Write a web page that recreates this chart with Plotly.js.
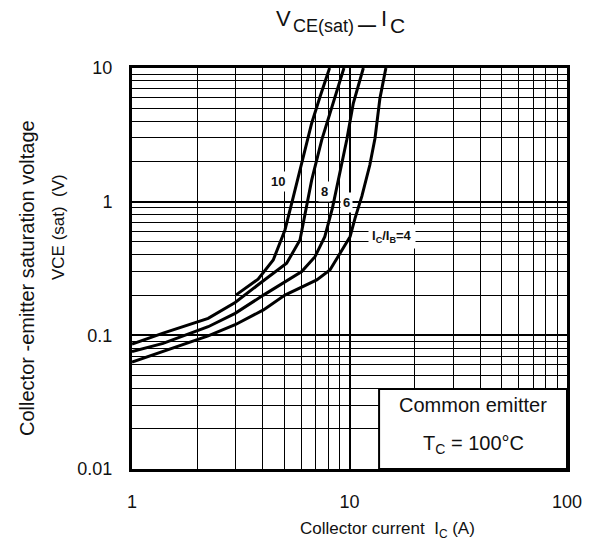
<!DOCTYPE html>
<html>
<head>
<meta charset="utf-8">
<script src="https://cdn.plot.ly/plotly-3.0.1.min.js"></script>
<style>html,body{margin:0;padding:0;background:#fff}#chart{width:592px;height:547px}</style>
</head>
<body>
<div id="chart"></div>
<script>
// ---- data (IC in A, VCE(sat) in V) ----
const ratioLabels = ["10", "8", "6", "I<sub>C</sub>/I<sub>B</sub>=4"];

const ic10 = [3.0, 3.8, 4.46, 5.05, 5.52, 6.03, 6.7, 7.32, 8.1];
const v10  = [0.2, 0.263, 0.366, 0.614, 1.09, 1.94, 3.86, 6.1, 10];

const ic8 = [1, 1.39, 2.24, 2.98, 3.88, 5.14, 5.92, 6.3, 6.7, 7.45, 8.42, 9.43];
const v8  = [0.086, 0.104, 0.134, 0.176, 0.245, 0.346, 0.517, 0.9, 1.45, 2.89, 5.45, 10];

const ic6 = [1, 1.39, 2.24, 2.98, 4.02, 4.96, 6.03, 6.94, 7.7, 8.35, 8.89, 9.71, 10.41, 11.58];
const v6  = [0.0755, 0.087, 0.116, 0.146, 0.2, 0.245, 0.3, 0.388, 0.547, 0.9, 1.45, 2.89, 5.45, 10];

const ic4 = [1, 1.39, 2.24, 2.98, 4.02, 5.05, 5.92, 7.07, 8.13, 9.03, 10.06, 10.6, 11.4, 12.4, 13.1, 13.8, 14.7];
const v4  = [0.063, 0.0755, 0.099, 0.12, 0.155, 0.2, 0.225, 0.26, 0.308, 0.411, 0.547, 0.75, 1.1, 1.88, 2.98, 5.93, 10];

const xTickVals = [1, 10, 100];
const xTickText = ["1", "10", "100"];
const yTickVals = [0.01, 0.1, 1, 10];
const yTickText = ["0.01", "0.1", "1", "10"];

// minor grid positions (2..9 within each decade)
function minorVals(lo, hi) {
  const out = [];
  for (let d = lo; d < hi; d++) for (let k = 2; k <= 9; k++) out.push(k * Math.pow(10, d));
  return out;
}

const FONT = "Liberation Sans, Arial, Helvetica, sans-serif";
const INK = "#111";
const lineStyle = {color: "black", width: 3};

const series = [[ic10, v10], [ic8, v8], [ic6, v6], [ic4, v4]];
const traces = series.map((s, i) => ({
  x: s[0], y: s[1], type: "scatter", mode: "lines",
  line: lineStyle, name: ratioLabels[i], showlegend: false, hoverinfo: "skip"
}));

const axisCommon = {
  type: "log",
  showgrid: true, gridcolor: "black", gridwidth: 2,
  showline: true, linecolor: "black", linewidth: 3, mirror: true,
  ticks: "", zeroline: false,
  tickfont: {family: FONT, size: 18, color: INK},
  tickmode: "array"
};

function px2x(p) { return (p - 132) / 435; }
function px2y(p) { return (469 - p) / 401; }

function txt(text, x, y, size, extra) {
  return Object.assign({
    x: x, y: y, xref: "paper", yref: "paper", text: text, showarrow: false,
    xanchor: "center", yanchor: "middle",
    font: {family: FONT, size: size, color: INK}
  }, extra || {});
}
function curveLabel(text, lx, ly, pad) {
  return {x: lx, y: ly, xref: "x", yref: "y", text: "<b>" + text + "</b>", showarrow: false,
    xanchor: "center", yanchor: "middle",
    bgcolor: "white", borderpad: pad, font: {family: FONT, size: 13, color: INK}};
}

const layout = {
  width: 592, height: 547,
  margin: {l: 132, r: 25, t: 68, b: 78, pad: 0},
  paper_bgcolor: "white", plot_bgcolor: "white",
  font: {family: FONT, color: INK},
  xaxis: Object.assign({}, axisCommon, {
    range: [0, 2],
    tickvals: xTickVals, ticktext: xTickText,
    ticklabelstandoff: 14,
    minor: {tickmode: "array", tickvals: minorVals(0, 2), showgrid: true, gridcolor: "black", gridwidth: 1, ticks: ""}
  }),
  yaxis: Object.assign({}, axisCommon, {
    range: [-2, 1],
    tickvals: yTickVals, ticktext: yTickText,
    ticklabelstandoff: 13,
    minor: {tickmode: "array", tickvals: minorVals(-2, 1), showgrid: true, gridcolor: "black", gridwidth: 1, ticks: ""}
  }),
  shapes: [{
    type: "rect", xref: "paper", yref: "paper",
    x0: 0.568, x1: 1, y0: 0, y1: 0.1995,
    fillcolor: "white", line: {color: "black", width: 2}, layer: "above"
  }],
  annotations: [
    // chart title, built from pieces so the subscripts keep their size
    txt("V", px2x(283.5), px2y(18), 22),
    txt("CE(sat)", px2x(323), px2y(25.5), 18),
    txt("<b>\u2014</b>", px2x(366.5), px2y(25), 18),
    txt("I", px2x(383.5), px2y(18), 22),
    txt("C", px2x(397.5), px2y(25.5), 21),
    // curve labels (log coordinates)
    curveLabel(ratioLabels[0], 0.6727, 0.150, 2),
    curveLabel(ratioLabels[1], 0.887, 0.075, 2),
    curveLabel(ratioLabels[2], 0.987, -0.005, 2),
    curveLabel(ratioLabels[3], 1.194, -0.262, 3),
    // box texts
    txt("Common emitter", px2x(473), px2y(405), 20),
    txt("T<sub>C</sub> = 100\u00b0C", px2x(473), px2y(444), 20),
    // y-axis titles
    txt("Collector -emitter saturation voltage", px2x(27), px2y(278), 20, {textangle: -90}),
    txt("VCE (sat)\u00a0\u00a0(V)", px2x(59), px2y(227), 17, {textangle: -90}),
    // x-axis title
    txt("Collector current\u00a0\u00a0I<sub>C</sub> (A)", px2x(387), px2y(530), 17)
  ]
};

Plotly.newPlot("chart", traces, layout, {displayModeBar: false, staticPlot: true});
</script>
</body>
</html>
